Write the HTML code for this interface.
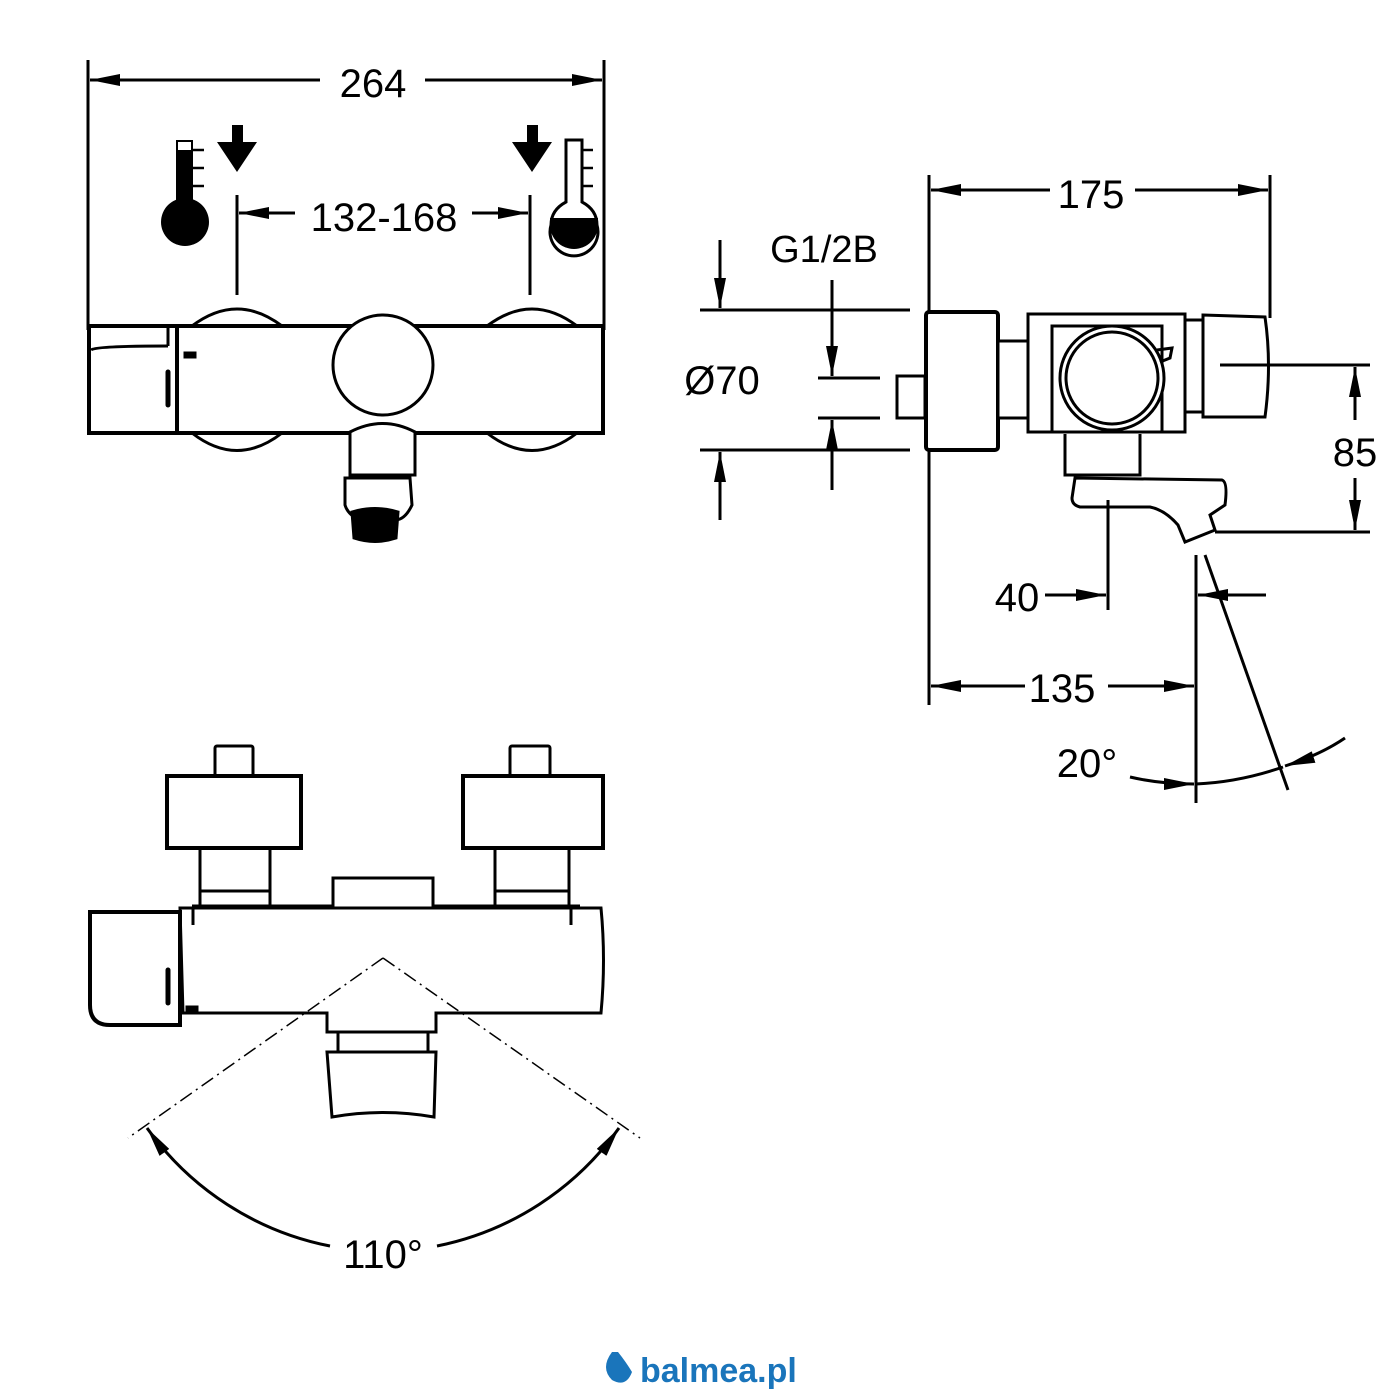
<!DOCTYPE html>
<html><head><meta charset="utf-8"><style>html,body{margin:0;padding:0;background:#fff}svg{display:block}</style></head>
<body>
<svg width="1400" height="1400" viewBox="0 0 1400 1400" xmlns="http://www.w3.org/2000/svg" font-family="Liberation Sans, sans-serif">
<defs>
<marker id="a" viewBox="0 0 30 12" refX="30" refY="6" markerWidth="30" markerHeight="12" markerUnits="userSpaceOnUse" orient="auto"><path d="M0,0 L30,6 L0,12 z" fill="#000"/></marker>
</defs>
<g fill="none" stroke="#000" stroke-width="3">
<!-- TOP VIEW -->
<line x1="88" y1="60" x2="88" y2="330"/><line x1="604" y1="60" x2="604" y2="330"/>
<line x1="320" y1="80" x2="90" y2="80" marker-end="url(#a)"/><line x1="425" y1="80" x2="602" y2="80" marker-end="url(#a)"/>
<line x1="237" y1="195" x2="237" y2="295"/><line x1="530" y1="195" x2="530" y2="295"/>
<line x1="295" y1="213" x2="239" y2="213" marker-end="url(#a)"/><line x1="472" y1="213" x2="528" y2="213" marker-end="url(#a)"/>
<path d="M192,326 Q237,292 282,326"/><path d="M192,433 Q237,468 282,433"/>
<path d="M487,326 Q532,292 577,326"/><path d="M487,433 Q532,468 577,433"/>
<rect x="89" y="326" width="514" height="107" fill="#fff" stroke-width="4"/>
<line x1="177" y1="328" x2="177" y2="432" stroke-width="4"/><line x1="168" y1="328" x2="168" y2="346"/>
<path d="M91,350 Q95,346 168,346"/>
<line x1="168" y1="372" x2="168" y2="405" stroke-width="5" stroke-linecap="round"/>
<rect x="184" y="352" width="12" height="6" fill="#000" stroke-width="1"/>
<circle cx="383" cy="365" r="50" fill="#fff"/>
<path d="M350,475 L350,432 Q383,415 415,432 L415,475 z" fill="#fff"/>
<path d="M345,478 L410,478 L412,505 Q405,520 395,520 L360,520 Q348,515 345,505 z" fill="#fff"/>
<path d="M352,512 Q375,505 398,512 L396,538 Q375,545 354,538 z" fill="#000"/>
<!-- SIDE VIEW -->
<line x1="929" y1="175" x2="929" y2="705"/><line x1="1270" y1="175" x2="1270" y2="318"/>
<line x1="1050" y1="190" x2="931" y2="190" marker-end="url(#a)"/><line x1="1135" y1="190" x2="1268" y2="190" marker-end="url(#a)"/>
<line x1="700" y1="310" x2="910" y2="310"/><line x1="700" y1="450" x2="910" y2="450"/>
<line x1="720" y1="240" x2="720" y2="308" marker-end="url(#a)"/><line x1="720" y1="520" x2="720" y2="452" marker-end="url(#a)"/>
<line x1="818" y1="378" x2="880" y2="378"/><line x1="818" y1="418" x2="880" y2="418"/>
<line x1="832" y1="280" x2="832" y2="376" marker-end="url(#a)"/><line x1="832" y1="490" x2="832" y2="420" marker-end="url(#a)"/>
<rect x="897" y="376" width="28" height="42" fill="#fff"/>
<rect x="926" y="312" width="72" height="138" rx="3" fill="#fff" stroke-width="4"/>
<rect x="998" y="341" width="52" height="77" fill="#fff"/>
<rect x="1028" y="314" width="157" height="118" fill="#fff"/>
<rect x="1052" y="326" width="110" height="106" fill="#fff"/>
<rect x="1185" y="320" width="20" height="92" fill="#fff"/>
<path d="M1203,315 L1265,317 Q1272,365 1265,417 L1203,417 z" fill="#fff"/>
<circle cx="1112" cy="378" r="52" fill="#fff"/><circle cx="1112" cy="378" r="46"/>
<path d="M1157,350 L1172,348 L1170,358 L1160,362"/>
<path d="M1065,434 L1065,475 L1140,475 L1140,434"/>
<path d="M1075,478 L1222,480 Q1228,482 1225,505 L1210,515 L1215,530 L1185,542 L1178,525 Q1165,510 1150,507 L1080,507 Q1072,505 1072,498 z" fill="#fff"/>
<line x1="1220" y1="365" x2="1370" y2="365"/><line x1="1215" y1="532" x2="1370" y2="532"/>
<line x1="1355" y1="420" x2="1355" y2="367" marker-end="url(#a)"/><line x1="1355" y1="478" x2="1355" y2="530" marker-end="url(#a)"/>
<line x1="1108" y1="500" x2="1108" y2="610"/>
<line x1="1045" y1="595" x2="1106" y2="595" marker-end="url(#a)"/>
<line x1="1196" y1="555" x2="1196" y2="803"/>
<line x1="1266" y1="595" x2="1198" y2="595" marker-end="url(#a)"/>
<line x1="1025" y1="686" x2="931" y2="686" marker-end="url(#a)"/><line x1="1108" y1="686" x2="1194" y2="686" marker-end="url(#a)"/>
<line x1="1205" y1="555" x2="1288" y2="790"/>
<path d="M1130,777 Q1160,784 1194,784" marker-end="url(#a)"/>
<path d="M1345,738 Q1320,755 1285,766" marker-end="url(#a)"/>
<path d="M1196,784 Q1240,782 1283,767" />
<!-- BOTTOM VIEW -->
<rect x="215" y="746" width="38" height="30" rx="2" fill="#fff"/>
<rect x="510" y="746" width="40" height="30" rx="2" fill="#fff"/>
<rect x="167" y="776" width="134" height="72" fill="#fff" stroke-width="4"/>
<rect x="463" y="776" width="140" height="72" fill="#fff" stroke-width="4"/>
<rect x="200" y="848" width="70" height="58"/><line x1="200" y1="891" x2="270" y2="891"/>
<rect x="495" y="848" width="74" height="58"/><line x1="495" y1="891" x2="569" y2="891"/>
<path d="M192,906 L333,906 L333,878 L433,878 L433,906 L580,906"/>
<path d="M180,908 L601,908 Q606,960 601,1013 L436,1013 L436,1032 L327,1032 L327,1013 L183,1013 z" fill="#fff"/>
<line x1="193" y1="908" x2="193" y2="925"/><line x1="571" y1="908" x2="571" y2="925"/>
<path d="M90,912 L180,912 L180,1025 L110,1025 Q90,1025 90,1005 z" fill="#fff" stroke-width="4"/>
<line x1="168" y1="970" x2="168" y2="1003" stroke-width="5" stroke-linecap="round"/>
<rect x="186" y="1006" width="12" height="6" fill="#000" stroke-width="1"/>
<rect x="338" y="1032" width="90" height="20"/>
<path d="M327,1052 L436,1052 L434,1117 Q383,1108 332,1117 z" fill="#fff"/>
<path d="M383,958 L128,1138 M383,958 L640,1138" stroke-width="1.5" stroke-dasharray="14,5,2,5"/>
<path d="M330,1246 A295,295 0 0 1 147,1128" marker-end="url(#a)"/>
<path d="M437,1246 A295,295 0 0 0 619,1128" marker-end="url(#a)"/>
</g>
<!-- thermometers & arrows -->
<rect x="176" y="140" width="17" height="70" fill="#000"/><rect x="178" y="142" width="13" height="8" fill="#fff"/>
<circle cx="185" cy="222" r="24" fill="#000"/>
<g stroke="#000" stroke-width="2.5"><line x1="193" y1="150" x2="204" y2="150"/><line x1="193" y1="168" x2="204" y2="168"/><line x1="193" y1="186" x2="204" y2="186"/>
<line x1="582" y1="150" x2="593" y2="150"/><line x1="582" y1="168" x2="593" y2="168"/><line x1="582" y1="186" x2="593" y2="186"/></g>
<path d="M566,140 L582,140 L582,202 Q597,210 597,225 A24,24 0 1 1 551,225 Q551,210 566,202 z" fill="#fff" stroke="#000" stroke-width="3"/>
<path d="M550,218 L598,218 L598,225 A24,24 0 1 1 550,225 z" fill="#000"/>
<path d="M232,125 L243,125 L243,142 L257,142 L237,172 L217,142 L232,142 z" fill="#000"/>
<path d="M527,125 L538,125 L538,142 L552,142 L532,172 L512,142 L527,142 z" fill="#000"/>
<g font-size="40" fill="#000" text-anchor="middle">
<text x="373" y="97">264</text>
<text x="384" y="231">132-168</text>
<text x="1091" y="208">175</text>
<text x="824" y="262" font-size="38">G1/2B</text>
<text x="722" y="394">Ø70</text>
<text x="1355" y="466">85</text>
<text x="1017" y="611">40</text>
<text x="1062" y="702">135</text>
<text x="1087" y="777">20°</text>
<text x="383" y="1268">110°</text>
</g>
<path d="M612,1352 Q600,1368 612,1380 Q626,1388 632,1372 Q626,1362 618,1352 z" fill="#1a75bb"/>
<text x="640" y="1382" font-size="34" font-weight="bold" fill="#1a75bb">balmea.pl</text>
</svg>
</body></html>
